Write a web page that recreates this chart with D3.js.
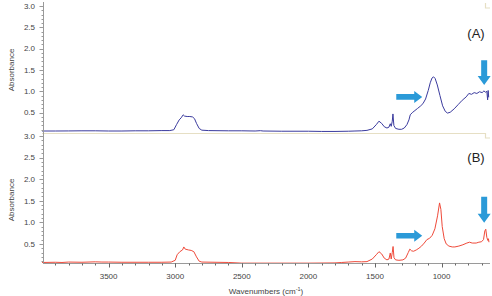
<!DOCTYPE html>
<html>
<head>
<meta charset="utf-8">
<script src="https://cdnjs.cloudflare.com/ajax/libs/d3/7.8.5/d3.min.js"></script>
<style>
  body { margin: 0; background: #fff; }
  svg { display: block; font-family: "Liberation Sans", Arial, sans-serif; }
</style>
</head>
<body>
<div id="chart"></div>
<script>
// spectrum (A): [wavenumber, absorbance]
const spectrumA = [
  [4000, 0.07], [3900, 0.07], [3800, 0.072], [3700, 0.075], [3600, 0.075], [3500, 0.07],
  [3400, 0.07], [3300, 0.075], [3200, 0.075], [3100, 0.08], [3040, 0.08], [3010, 0.1],
  [2990, 0.22], [2970, 0.33], [2955, 0.38], [2940, 0.45], [2930, 0.42], [2910, 0.41],
  [2890, 0.41], [2870, 0.40], [2855, 0.36], [2840, 0.25], [2820, 0.13], [2800, 0.09],
  [2750, 0.08], [2600, 0.075], [2500, 0.075], [2400, 0.07], [2360, 0.078], [2340, 0.07],
  [2200, 0.065], [2000, 0.065], [1900, 0.06], [1800, 0.06], [1700, 0.065], [1650, 0.07],
  [1600, 0.075], [1560, 0.085], [1520, 0.12], [1490, 0.22], [1470, 0.3], [1450, 0.25],
  [1430, 0.17], [1410, 0.14], [1395, 0.16], [1385, 0.24], [1378, 0.18], [1370, 0.3],
  [1365, 0.47], [1358, 0.2], [1345, 0.13], [1320, 0.11], [1300, 0.11], [1280, 0.14],
  [1260, 0.22], [1245, 0.33], [1235, 0.45], [1220, 0.5], [1200, 0.55], [1180, 0.6],
  [1160, 0.65], [1140, 0.71], [1120, 0.82], [1100, 1.02], [1085, 1.2], [1072, 1.31],
  [1060, 1.34], [1048, 1.3], [1032, 1.15], [1012, 0.9], [992, 0.66], [972, 0.53],
  [955, 0.49], [935, 0.51], [905, 0.59], [875, 0.69], [845, 0.79], [815, 0.87],
  [795, 0.95], [775, 0.93], [755, 0.97], [735, 0.95], [715, 0.99], [695, 0.97],
  [682, 1.01], [670, 0.98], [660, 1.0], [654, 0.8], [650, 1.02], [646, 0.86]
];

// spectrum (B): [wavenumber, absorbance]
const spectrumB = [
  [4000, 0.07], [3900, 0.075], [3850, 0.07], [3800, 0.08], [3700, 0.075], [3600, 0.085],
  [3550, 0.08], [3500, 0.08], [3400, 0.075], [3200, 0.075], [3100, 0.075], [3030, 0.08],
  [3000, 0.12], [2985, 0.25], [2965, 0.32], [2945, 0.36], [2935, 0.43], [2925, 0.38],
  [2900, 0.36], [2880, 0.35], [2860, 0.32], [2840, 0.2], [2820, 0.1], [2800, 0.08],
  [2600, 0.07], [2500, 0.055], [2000, 0.055], [1800, 0.06], [1750, 0.07], [1700, 0.08],
  [1650, 0.09], [1600, 0.085], [1560, 0.09], [1520, 0.15], [1490, 0.25], [1470, 0.32],
  [1450, 0.27], [1430, 0.17], [1410, 0.13], [1395, 0.15], [1385, 0.29], [1378, 0.15],
  [1370, 0.3], [1364, 0.44], [1357, 0.18], [1345, 0.13], [1320, 0.12], [1290, 0.13],
  [1270, 0.17], [1250, 0.3], [1238, 0.38], [1225, 0.34], [1210, 0.33], [1190, 0.36],
  [1170, 0.4], [1150, 0.45], [1130, 0.52], [1110, 0.6], [1090, 0.63], [1070, 0.7],
  [1050, 0.85], [1030, 1.15], [1015, 1.45], [1005, 1.3], [995, 0.9], [980, 0.62],
  [965, 0.5], [945, 0.45], [920, 0.43], [900, 0.43], [870, 0.45], [840, 0.48],
  [810, 0.52], [790, 0.54], [770, 0.52], [740, 0.52], [720, 0.54], [700, 0.55],
  [685, 0.6], [675, 0.8], [668, 0.84], [660, 0.65], [652, 0.58], [648, 0.62], [644, 0.54]
];

const yTickValues = [0.5, 1.0, 1.5, 2.0, 2.5, 3.0];
const xTickValues = [3500, 3000, 2500, 2000, 1500, 1000];

// arrow annotations: right arrows [w0, w1, v], down arrows [w, v0, v1]
const rightArrowsA = [[1340, 1145, 0.87]];
const downArrowsA = [[680, 1.73, 1.15]];
const rightArrowsB = [[1340, 1145, 0.69]];
const downArrowsB = [[680, 1.59, 0.99]];

const width = 492, height = 296;
const svg = d3.select('#chart').append('svg')
  .attr('width', width).attr('height', height);

const x = d3.scaleLinear().domain([4000, 640]).range([42, 489.5]);
const yA = d3.scaleLinear().domain([0, 3]).range([134, 6]);
const yB = d3.scaleLinear().domain([0, 3]).range([265.5, 136]);

const axisColor = '#9a9a9a';
const labelColor = '#444';
const beige = '#e6dfc4';

// top panel frame bits
svg.append('path')
  .attr('d', `M${x(4000)},133.5 H485.5 V138 H490`)
  .attr('fill', 'none').attr('stroke', beige).attr('stroke-width', 1.2);
svg.append('path')
  .attr('d', 'M485.5,3 V8 H490')
  .attr('fill', 'none').attr('stroke', beige).attr('stroke-width', 1.2);

// spectra
function drawSpectrum(data, y, color) {
  const line = d3.line().x(d => x(d[0])).y(d => y(d[1]));
  svg.append('path').datum(data)
    .attr('d', line)
    .attr('fill', 'none')
    .attr('stroke', color)
    .attr('stroke-width', 1)
    .attr('stroke-linejoin', 'round');
}
drawSpectrum(spectrumA, yA, '#3b3b9e');
drawSpectrum(spectrumB, yB, '#ef4a3a');

// y axis (shared line)
svg.append('line')
  .attr('x1', 43.5).attr('x2', 43.5).attr('y1', 2).attr('y2', 263)
  .attr('stroke', axisColor).attr('stroke-width', 1);

function drawYTicks(y) {
  const minor = d3.range(0.1, 3.01, 0.1);
  svg.append('g').selectAll('line').data(minor).join('line')
    .attr('x1', 41.5).attr('x2', 43.5)
    .attr('y1', d => Math.round(y(d)) + 0.5).attr('y2', d => Math.round(y(d)) + 0.5)
    .attr('stroke', axisColor);
  svg.append('g').selectAll('line').data(yTickValues).join('line')
    .attr('x1', 39.5).attr('x2', 43.5)
    .attr('y1', d => Math.round(y(d)) + 0.5).attr('y2', d => Math.round(y(d)) + 0.5)
    .attr('stroke', axisColor);
  svg.append('g').selectAll('text').data(yTickValues).join('text')
    .attr('x', 35).attr('y', d => y(d))
    .attr('dy', '0.35em')
    .attr('text-anchor', 'end')
    .attr('font-size', 8)
    .attr('fill', labelColor)
    .text(d => d.toFixed(1));
}
drawYTicks(yA);
drawYTicks(yB);

// x axis
const xAxisY = 263.5;
svg.append('line')
  .attr('x1', 43).attr('x2', 490).attr('y1', xAxisY).attr('y2', xAxisY)
  .attr('stroke', axisColor).attr('stroke-width', 1.2);
const xMinor = d3.range(700, 4000, 100);
svg.append('g').selectAll('line').data(xMinor).join('line')
  .attr('x1', d => Math.round(x(d)) + 0.5).attr('x2', d => Math.round(x(d)) + 0.5)
  .attr('y1', xAxisY).attr('y2', xAxisY + 2)
  .attr('stroke', '#666');
svg.append('g').selectAll('line').data(xTickValues).join('line')
  .attr('x1', d => Math.round(x(d)) + 0.5).attr('x2', d => Math.round(x(d)) + 0.5)
  .attr('y1', xAxisY).attr('y2', xAxisY + 4)
  .attr('stroke', '#666');
svg.append('g').selectAll('text').data(xTickValues).join('text')
  .attr('x', d => x(d)).attr('y', 279)
  .attr('text-anchor', 'middle')
  .attr('font-size', 8)
  .attr('fill', labelColor)
  .text(d => d);

// axis titles
const xt = svg.append('text')
  .attr('x', 266).attr('y', 293.5)
  .attr('text-anchor', 'middle')
  .attr('font-size', 8)
  .attr('fill', labelColor);
xt.append('tspan').text('Wavenumbers (cm');
xt.append('tspan').attr('font-size', 5.5).attr('dy', -3).text('-1');
xt.append('tspan').attr('dy', 3).text(')');

[[70], [200]].forEach(([cy]) => {
  svg.append('text')
    .attr('transform', `translate(14,${cy}) rotate(-90)`)
    .attr('text-anchor', 'middle')
    .attr('font-size', 8)
    .attr('fill', labelColor)
    .text('Absorbance');
});

// panel labels
svg.append('text').attr('x', 476).attr('y', 38).attr('text-anchor', 'middle')
  .attr('font-size', 13).attr('fill', '#222').text('(A)');
svg.append('text').attr('x', 476).attr('y', 162).attr('text-anchor', 'middle')
  .attr('font-size', 13).attr('fill', '#222').text('(B)');

// arrows
const arrowColor = '#2b9ad8';
function rightArrow(w0, w1, v, y) {
  const x0 = x(w0), x1 = x(w1), cy = y(v);
  const hl = 8, sh = 2.8, hh = 6;
  const pts = [[x0, cy - sh], [x1 - hl, cy - sh], [x1 - hl, cy - hh], [x1, cy],
    [x1 - hl, cy + hh], [x1 - hl, cy + sh], [x0, cy + sh]];
  svg.append('polygon').attr('points', pts.map(p => p.join(',')).join(' '))
    .attr('fill', arrowColor);
}
function downArrow(w, v0, v1, y) {
  const cx = x(w), y0 = y(v0), y1 = y(v1);
  const hl = 9, sw = 3, hw = 6.5;
  const pts = [[cx - sw, y0], [cx + sw, y0], [cx + sw, y1 - hl], [cx + hw, y1 - hl],
    [cx, y1], [cx - hw, y1 - hl], [cx - sw, y1 - hl]];
  svg.append('polygon').attr('points', pts.map(p => p.join(',')).join(' '))
    .attr('fill', arrowColor);
}
rightArrowsA.forEach(a => rightArrow(a[0], a[1], a[2], yA));
downArrowsA.forEach(a => downArrow(a[0], a[1], a[2], yA));
rightArrowsB.forEach(a => rightArrow(a[0], a[1], a[2], yB));
downArrowsB.forEach(a => downArrow(a[0], a[1], a[2], yB));
</script>
</body>
</html>
